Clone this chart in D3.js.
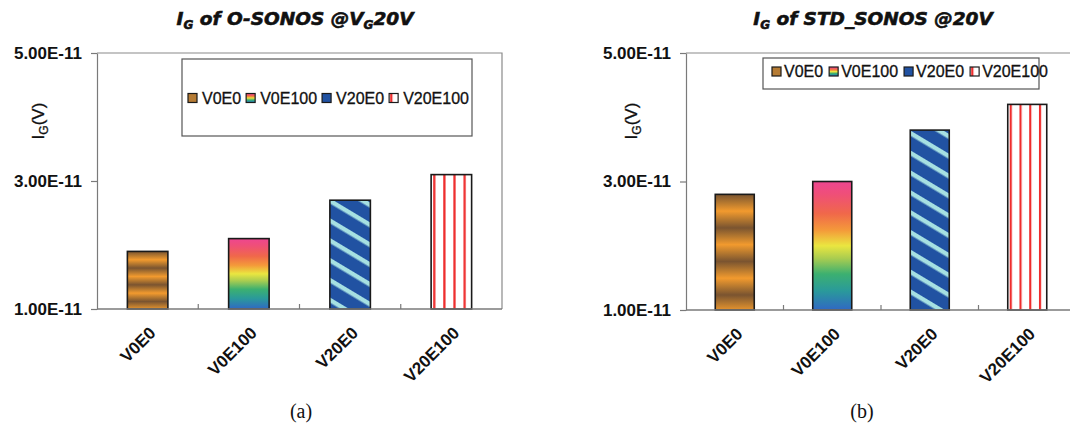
<!DOCTYPE html>
<html>
<head>
<meta charset="utf-8">
<script src="https://cdn.jsdelivr.net/npm/d3@7"></script>
<style>
  html, body { margin: 0; padding: 0; background: #fff; }
  svg { display: block; }
</style>
</head>
<body>
<svg id="chart" width="1070" height="427"></svg>
<script>
// Gate current I_G of two SONOS variants under four stress conditions
const categories = ["V0E0", "V0E100", "V20E0", "V20E100"];
const osonosValues = [1.9e-11, 2.1e-11, 2.7e-11, 3.1e-11];
const stdSonosValues = [2.8e-11, 3.0e-11, 3.8e-11, 4.2e-11];
const yTickValues = [1e-11, 3e-11, 5e-11];
const yDomain = [1e-11, 5e-11];

const svg = d3.select("#chart");
const defs = svg.append("defs");
const SANS = "'Liberation Sans', Arial, sans-serif";

// ---- fills for each condition ----
// V0E0: repeating gold / brown horizontal banding
const gold = defs.append("linearGradient").attr("id", "fill-gold")
  .attr("x1", 0).attr("y1", 0).attr("x2", 0).attr("y2", 0.29)
  .attr("spreadMethod", "repeat");
[[0, "#7a5430"], [0.25, "#b5782f"], [0.5, "#f29a2e"], [0.75, "#b5782f"], [1, "#7a5430"]]
  .forEach(([o, c]) => gold.append("stop").attr("offset", o).attr("stop-color", c));

// V0E100: rainbow from pink at the top to blue at the bottom
const rainbow = defs.append("linearGradient").attr("id", "fill-rainbow")
  .attr("x1", 0).attr("y1", 0).attr("x2", 0).attr("y2", 1);
[[0, "#ee4690"], [0.1, "#ef4f78"], [0.25, "#f0684a"], [0.38, "#f49a3a"],
 [0.5, "#eae640"], [0.6, "#a8cc50"], [0.72, "#3cb070"], [0.85, "#2a9a9a"], [1, "#3068c4"]]
  .forEach(([o, c]) => rainbow.append("stop").attr("offset", o).attr("stop-color", c));

// V20E0: dark blue with light cyan diagonal stripes
const diag = defs.append("pattern").attr("id", "fill-diag")
  .attr("patternUnits", "userSpaceOnUse").attr("width", 20).attr("height", 17)
  .attr("patternTransform", "rotate(31)");
diag.append("rect").attr("width", 20).attr("height", 17).attr("fill", "#2152a2");
diag.append("rect").attr("y", 0).attr("width", 20).attr("height", 4.5).attr("fill", "#a6e0e2");

// V20E100: white with red vertical lines
const vlines = defs.append("pattern").attr("id", "fill-vlines")
  .attr("patternUnits", "objectBoundingBox").attr("patternContentUnits", "objectBoundingBox")
  .attr("width", 0.25).attr("height", 1);
vlines.append("rect").attr("width", 0.25).attr("height", 1).attr("fill", "#fff");
vlines.append("rect").attr("x", 0.05).attr("width", 0.055).attr("height", 1).attr("fill", "#ee2c2c");

// small legend swatch for the red-line fill
const swRed = defs.append("pattern").attr("id", "swatch-red")
  .attr("patternUnits", "objectBoundingBox").attr("patternContentUnits", "objectBoundingBox")
  .attr("width", 1).attr("height", 1);
swRed.append("rect").attr("width", 1).attr("height", 1).attr("fill", "#fff");
swRed.append("rect").attr("x", 0.12).attr("width", 0.25).attr("height", 1).attr("fill", "#ee2c2c");

const barFills = ["url(#fill-gold)", "url(#fill-rainbow)", "url(#fill-diag)", "url(#fill-vlines)"];
const swatchFills = ["#b57b34", "url(#fill-rainbow)", "#2152a2", "url(#swatch-red)"];

const fmt = d => d.toExponential(2).toUpperCase();

function drawPanel(cfg) {
  const g = svg.append("g");
  const x = d3.scaleBand().domain(categories)
    .range([cfg.left, cfg.right]).paddingInner(0.6).paddingOuter(0.3);
  const y = d3.scaleLinear().domain(yDomain).range([cfg.bottom, cfg.top]);

  // plot frame (top and right edges)
  g.append("path")
    .attr("d", `M${cfg.left},${cfg.top}H${cfg.right}V${cfg.bottom}`)
    .attr("fill", "none").attr("stroke", "#8a8a8a").attr("stroke-width", 1.2);

  // title with subscripts
  const t = g.append("text").attr("x", cfg.titleX).attr("y", 25)
    .attr("text-anchor", "middle")
    .attr("font-family", "'DejaVu Sans', sans-serif")
    .attr("font-weight", "bold").attr("font-style", "italic")
    .attr("font-size", 18.5).attr("fill", "#111")
    .attr("stroke", "#111").attr("stroke-width", 0.6);
  let lowered = false;
  cfg.title.forEach(([s, sub]) => {
    const ts = t.append("tspan").text(s);
    if (sub) { ts.attr("font-size", 12).attr("dy", 4); lowered = true; }
    else if (lowered) { ts.attr("dy", -4); lowered = false; }
  });

  // y axis
  const yAxis = g.append("g").attr("transform", `translate(${cfg.left},0)`)
    .call(d3.axisLeft(y).tickValues(yTickValues).tickFormat(fmt)
      .tickSize(6).tickSizeOuter(0).tickPadding(9));
  yAxis.selectAll("path, line").attr("stroke", "#7a7a7a").attr("stroke-width", 1.2);
  yAxis.selectAll("text").attr("font-family", SANS).attr("font-weight", "bold")
    .attr("font-size", 17).attr("fill", "#111");

  // y axis title: I_G(V)
  const yl = g.append("text")
    .attr("transform", `translate(${cfg.yLabelX},${cfg.yLabelY}) rotate(-90)`)
    .attr("text-anchor", "middle").attr("font-family", SANS)
    .attr("font-size", 17).attr("fill", "#111")
    .attr("stroke", "#111").attr("stroke-width", 0.3);
  yl.append("tspan").text("I");
  yl.append("tspan").text("G").attr("font-size", 12).attr("dy", 4);
  yl.append("tspan").text("(V)").attr("dy", -4);

  // bars
  g.selectAll("rect.bar").data(cfg.values).join("rect")
    .attr("class", "bar")
    .attr("x", (d, i) => x(categories[i]))
    .attr("width", x.bandwidth())
    .attr("y", d => y(d))
    .attr("height", d => y(yDomain[0]) - y(d))
    .attr("fill", (d, i) => barFills[i])
    .attr("stroke", "#1a1a1a").attr("stroke-width", 1.6);

  // x axis: baseline, category labels, separator ticks
  const xAxis = g.append("g").attr("transform", `translate(0,${cfg.bottom})`)
    .call(d3.axisBottom(x).tickSize(0).tickSizeOuter(0));
  xAxis.select(".domain").attr("stroke", "#7a7a7a").attr("stroke-width", 1.4)
    .attr("d", `M${cfg.left},0H${cfg.right}`);
  xAxis.selectAll(".tick text")
    .attr("font-family", SANS).attr("font-weight", "bold").attr("font-size", 17)
    .attr("fill", "#111").attr("text-anchor", "end")
    .attr("dy", null).attr("y", 0)
    .attr("transform", "translate(9,25) rotate(-45)");
  const step = x.step();
  xAxis.selectAll("line.sep").data(categories.slice(1)).join("line")
    .attr("class", "sep")
    .attr("x1", (d, i) => cfg.left + (i + 1) * step)
    .attr("x2", (d, i) => cfg.left + (i + 1) * step)
    .attr("y1", 0).attr("y2", -5)
    .attr("stroke", "#7a7a7a").attr("stroke-width", 1.2);

  // legend
  const L = cfg.legend;
  const lg = g.append("g");
  lg.append("rect").attr("x", L.x).attr("y", L.y).attr("width", L.w).attr("height", L.h)
    .attr("fill", "#fff").attr("stroke", "#555").attr("stroke-width", 1.2);
  let cx = L.startX;
  categories.forEach((c, i) => {
    lg.append("rect").attr("x", cx).attr("y", L.textY - 10).attr("width", 9).attr("height", 9)
      .attr("fill", swatchFills[i]).attr("stroke", "#1a1a1a").attr("stroke-width", 1.2);
    cx += 9 + L.gapIn;
    const tx = lg.append("text").attr("x", cx).attr("y", L.textY)
      .attr("font-family", SANS).attr("font-size", 16).attr("fill", "#111")
      .attr("stroke", "#111").attr("stroke-width", 0.3).text(c);
    cx += tx.node().getComputedTextLength() + L.gapOut;
  });

  // panel caption
  g.append("text").attr("x", cfg.captionX).attr("y", 418)
    .attr("text-anchor", "middle")
    .attr("font-family", "'Liberation Serif', 'Times New Roman', serif")
    .attr("font-size", 20).attr("fill", "#111").text(cfg.caption);
}

drawPanel({
  values: osonosValues,
  left: 97, right: 502, top: 53, bottom: 309,
  titleX: 295,
  title: [["I"], ["G", true], [" of O-SONOS @V"], ["G", true], ["20V"]],
  yLabelX: 44, yLabelY: 121,
  legend: { x: 182, y: 59, w: 290, h: 77, textY: 103.5, startX: 188, gapIn: 5, gapOut: 5 },
  captionX: 301, caption: "(a)"
});

drawPanel({
  values: stdSonosValues,
  left: 686, right: 1076, top: 53, bottom: 310,
  titleX: 873,
  title: [["I"], ["G", true], [" of STD_SONOS @20V"]],
  yLabelX: 637, yLabelY: 121,
  legend: { x: 763, y: 58, w: 276, h: 31, textY: 77, startX: 772, gapIn: 3, gapOut: 6 },
  captionX: 862, caption: "(b)"
});
</script>
</body>
</html>
